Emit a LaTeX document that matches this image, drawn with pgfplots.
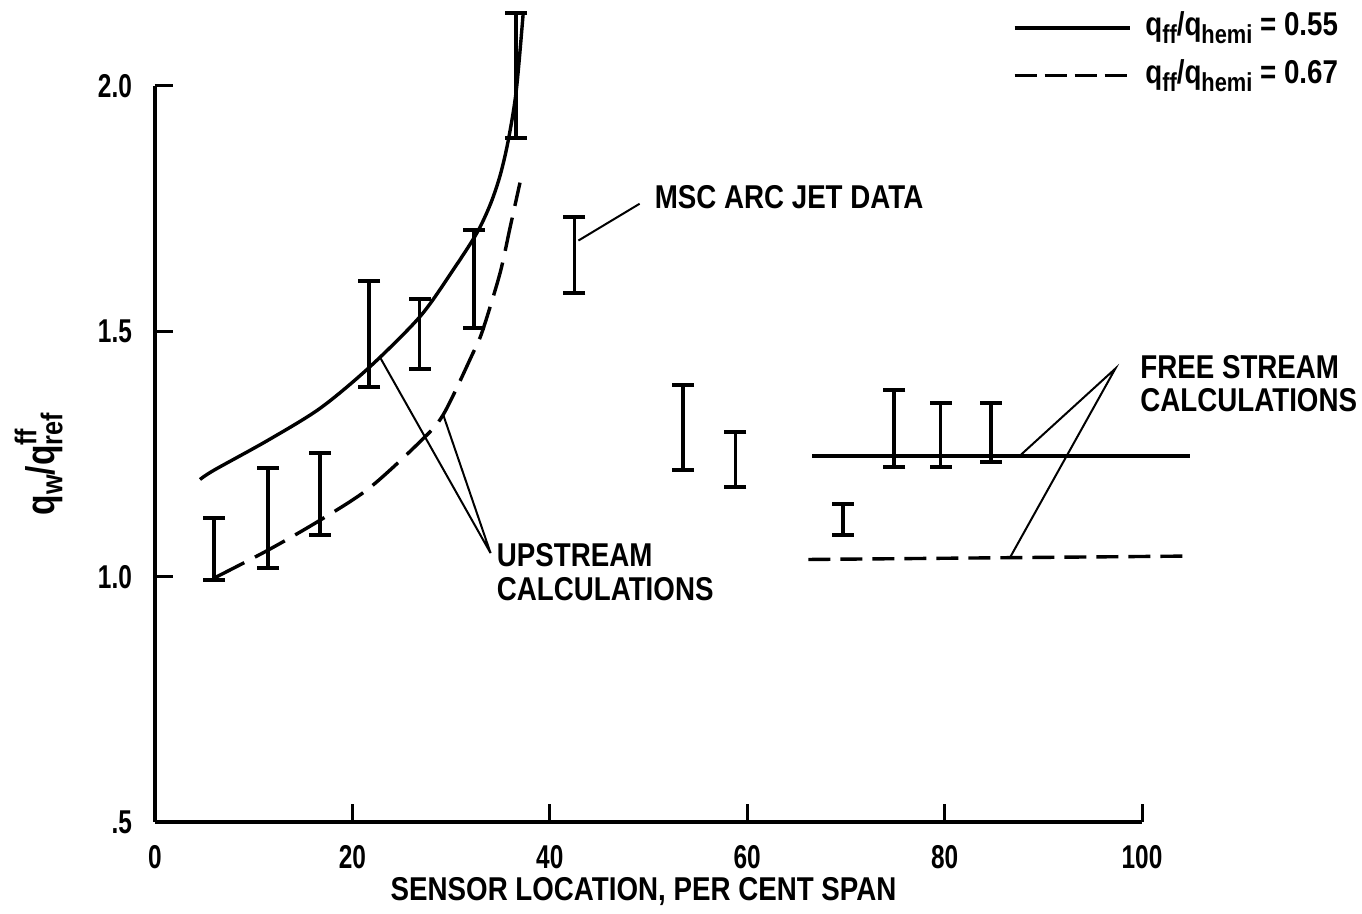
\documentclass[border=0pt]{standalone}
\usepackage{fontspec}
\setmainfont{Liberation Sans}[FakeStretch=0.84]
\newfontfamily\tickfont{Liberation Sans}[FakeStretch=0.74]
\usepackage{pgfplots}
\pgfplotsset{compat=1.18}
\newcommand\lab{\fontsize{16.5}{19}\selectfont\bfseries}
\begin{document}
\begin{tikzpicture}[x=1pt,y=1pt]
\useasboundingbox (0,0) rectangle (681,457);
\begin{axis}[
  at={(77.5pt,46pt)}, anchor=south west,
  scale only axis, width=493.5pt, height=368pt,
  xmin=0, xmax=100, ymin=0.5, ymax=2.0,
  axis lines=left, axis line style={-, line width=2pt},
  clip=false,
  xtick={0,20,40,60,80,100}, xticklabels={0,20,40,60,80,100},
  ytick={0.5,1.0,1.5,2.0}, yticklabels={.5,1.0,1.5,2.0},
  tick align=inside, major tick length=9pt,
  tick style={line width=1.5pt, black},
  ticklabel style={font=\tickfont\fontsize{16.5}{19}\selectfont\bfseries},
  xticklabel style={yshift=-8pt},
  yticklabel style={xshift=-8pt},
  unbounded coords=jump,
]
% MSC arc jet data: vertical bars with caps (nan separates the bars)
\addplot[black, line width=1.8pt, mark=-, mark size=5.5pt,
  mark options={line width=2pt, solid}]
coordinates {
 (6.0,0.994) (6.0,1.120) (6.0,nan)
 (11.45,1.018) (11.45,1.222) (11.45,nan)
 (16.7,1.084) (16.7,1.253) (16.7,nan)
 (21.7,1.387) (21.7,1.603) (21.7,nan)
 (26.8,1.424) (26.8,1.566) (26.8,nan)
 (32.3,1.506) (32.3,1.707) (32.3,nan)
 (36.6,1.895) (36.6,2.148) (36.6,nan)
 (42.5,1.578) (42.5,1.733) (42.5,nan)
 (53.5,1.218) (53.5,1.391) (53.5,nan)
 (58.8,1.183) (58.8,1.295) (58.8,nan)
 (69.7,1.084) (69.7,1.149) (69.7,nan)
 (74.9,1.224) (74.9,1.381) (74.9,nan)
 (79.6,1.224) (79.6,1.354) (79.6,nan)
 (84.7,1.234) (84.7,1.354)
};
% upstream calculations
\addplot[black, line width=1.7pt, smooth] coordinates {
 (4.56,1.198) (5.98,1.217) (11.45,1.278) (16.72,1.343) (21.68,1.426)
 (26.85,1.530) (30.2,1.625) (32.6,1.700) (34.0,1.760) (35.0,1.820)
 (35.8,1.890) (36.6,1.990) (37.3,2.147)
};
\addplot[black, line width=1.7pt, smooth, dash pattern=on 17pt off 6pt] coordinates {
 (5.98,0.997) (11.45,1.054) (16.72,1.115) (21.68,1.180) (26.85,1.275) (29.2,1.330)
 (32.2,1.455) (33.2,1.502) (34.95,1.618) (35.97,1.711) (36.98,1.803)
};
% free stream calculations
\addplot[black, line width=1.7pt] coordinates {(66.6,1.246) (104.9,1.246)};
\addplot[black, line width=1.7pt, dash pattern=on 11pt off 5pt] coordinates {(66.2,1.035) (104.9,1.042)};
% annotations
\draw[line width=1pt] (axis cs:49.1,1.760) -- (axis cs:42.9,1.685);
\node[anchor=west, font=\lab, inner sep=0pt] at (axis cs:50.6,1.774) {MSC ARC JET DATA};
\draw[line width=1pt] (axis cs:22.8,1.447) -- (axis cs:34.0,1.048) -- (axis cs:29.2,1.330);
\node[anchor=west, font=\lab, inner sep=0pt] at (axis cs:34.6,1.044) {UPSTREAM};
\node[anchor=west, font=\lab, inner sep=0pt] at (axis cs:34.6,0.974) {CALCULATIONS};
\draw[line width=1pt] (axis cs:87.6,1.246) -- (axis cs:97.3,1.424) -- (axis cs:86.6,1.038);
\node[anchor=west, font=\lab, inner sep=0pt] at (axis cs:99.8,1.428) {FREE STREAM};
\node[anchor=west, font=\lab, inner sep=0pt] at (axis cs:99.8,1.359) {CALCULATIONS};
% legend
\draw[line width=1.7pt] (axis cs:87.1,2.118) -- (axis cs:98.8,2.118);
\draw[line width=1.7pt, dash pattern=on 11pt off 4pt] (axis cs:87.1,2.021) -- (axis cs:98.8,2.021);
\node[anchor=west, font=\lab, inner sep=0pt] at (axis cs:100.3,2.118) {q\raisebox{-4pt}{\fontsize{13}{14}\selectfont ff}/q\raisebox{-4pt}{\fontsize{13}{14}\selectfont hemi} = 0.55};
\node[anchor=west, font=\lab, inner sep=0pt] at (axis cs:100.3,2.021) {q\raisebox{-4pt}{\fontsize{13}{14}\selectfont ff}/q\raisebox{-4pt}{\fontsize{13}{14}\selectfont hemi} = 0.67};
% axis labels
\node[font=\lab] at (axis cs:49.5,0.358) {SENSOR LOCATION, PER CENT SPAN};
\node[font=\fontsize{20}{22}\selectfont\bfseries, rotate=90, inner sep=0pt] at (axis cs:-11.8,1.229)
  {q\raisebox{-4pt}{\fontsize{15}{16}\selectfont w}/q\rlap{\raisebox{9pt}{\fontsize{15}{16}\selectfont ff}}\raisebox{-4pt}{\fontsize{15}{16}\selectfont ref}};
\end{axis}
\end{tikzpicture}
\end{document}
